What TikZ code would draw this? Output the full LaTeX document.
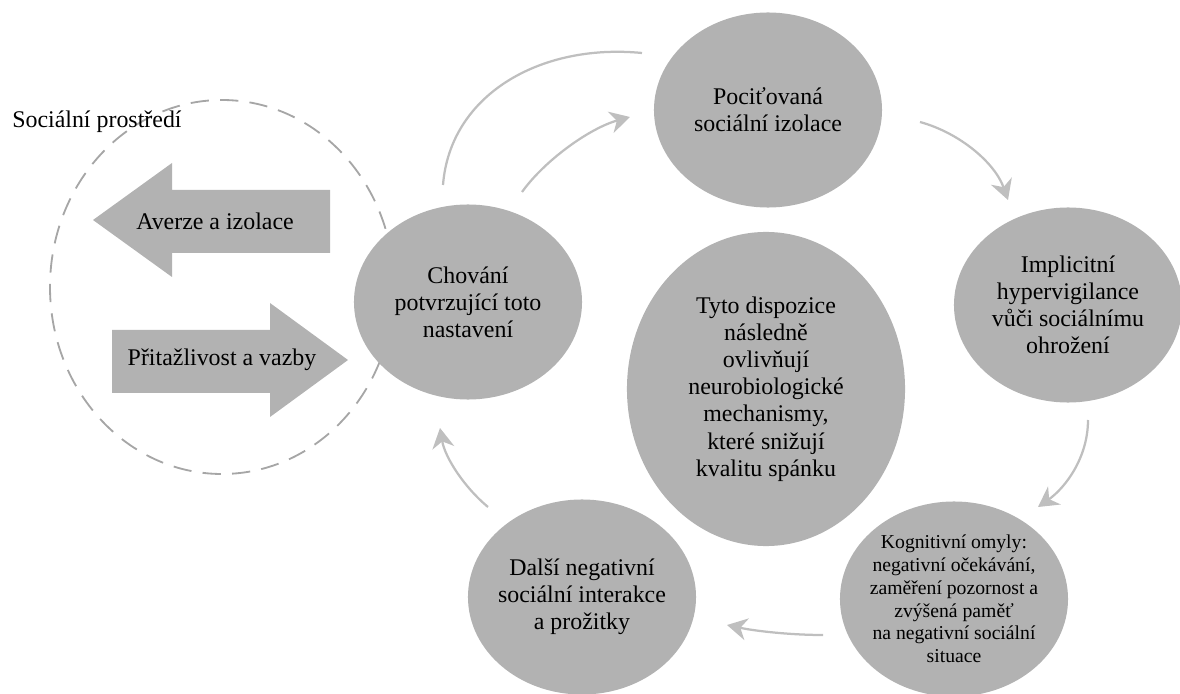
\documentclass[tikz,border=0pt]{standalone}
\usepackage{fontspec}
\setmainfont{Liberation Serif}
\usetikzlibrary{shapes.geometric,arrows.meta,calc}
\definecolor{circlegray}{RGB}{178,178,178}
\definecolor{arrowgray}{RGB}{191,191,191}
\definecolor{dashgray}{RGB}{166,166,166}

\begin{document}
\begin{tikzpicture}[x=0.025cm,y=0.025cm]
\tikzset{cycle node/.style={ %
		ellipse,
		fill=circlegray,
		inner sep=-4pt,
		minimum width=5.7cm,
		minimum height=4.875cm,
		align=center,
		font=\fontsize{17}{19.3}\selectfont %
	},
	cycle arrow/.style={ %
		draw=arrowgray,
		line width=1.6pt,
		-{Stealth[length=5mm,width=5.5mm,inset=1.6mm]} %
	},
	big text/.style={inner sep=0pt,font=\fontsize{17}{19.3}\selectfont}
}
\useasboundingbox (0,0) rectangle (1180,693);
% social environment
\draw[dashgray,line width=1.3pt,dash pattern=on 13pt off 8pt] (222,406) ellipse [x radius=172, y radius=187];
\node[big text,anchor=west] (envlabel) at (12,571) {Sociální prostředí};
\fill[circlegray] (93,473) -- (172,530) -- (172,503) -- (330,503) -- (330,440) -- (172,440) -- (172,416) -- cycle;
\fill[circlegray] (112,363) -- (270,363) -- (270,390) -- (348,333) -- (270,276) -- (270,300) -- (112,300) -- cycle;
\node[big text] (averze) at (215,472) {Averze a izolace};
\node[big text] (vazby) at (222,333) {Přitažlivost a vazby};
% cycle
\node[cycle node] (pocit) at (768,583) {Pociťovaná\\sociální izolace};
\node[cycle node] (impl) at (1068,388) {Implicitní\\hypervigilance\\vůči sociálnímu\\ohrožení};
\node[cycle node,inner sep=-8pt,font=\fontsize{14}{16.2}\selectfont] (kogn) at (954,94) {Kognitivní omyly:\\negativní očekávání,\\zaměření pozornost a\\zvýšená paměť\\na negativní sociální\\situace};
\node[cycle node] (dalsi) at (582,96) {Další negativní\\sociální interakce\\a prožitky};
\node[cycle node] (chov) at (468,391) {Chování\\potvrzující toto\\nastavení};
\node[cycle node,minimum width=6.95cm,minimum height=7.85cm] (disp) at (766,304) {Tyto dispozice\\následně\\ovlivňují\\neurobiologické\\mechanismy,\\které snižují\\kvalitu spánku};
% connectors
\draw[draw=arrowgray,line width=1.6pt] ($(chov)+(-25,117)$) .. controls +(7,90) and +(-102,10) .. ($(pocit)+(-126,57)$);
\draw[cycle arrow] ($(chov)+(54,110)$) .. controls +(23,32) and +(-40,-11) .. ($(pocit)+(-138,-7)$);
\draw[cycle arrow] ($(pocit)+(152,-12)$) .. controls +(40,-11) and +(-13,37) .. ($(impl)+(-60,105)$);
\draw[cycle arrow] ($(impl)+(20,-115)$) .. controls +(0,-38) and +(27,19) .. ($(kogn)+(84,92)$);
\draw[cycle arrow] ($(kogn)+(-131,-36)$) .. controls +(-33,0) and +(28,-6) .. ($(dalsi)+(145,-28)$);
\draw[cycle arrow] ($(dalsi)+(-94,90)$) .. controls +(-23,19) and +(5,-30) .. ($(chov)+(-28,-126)$);
\end{tikzpicture}
\end{document}
